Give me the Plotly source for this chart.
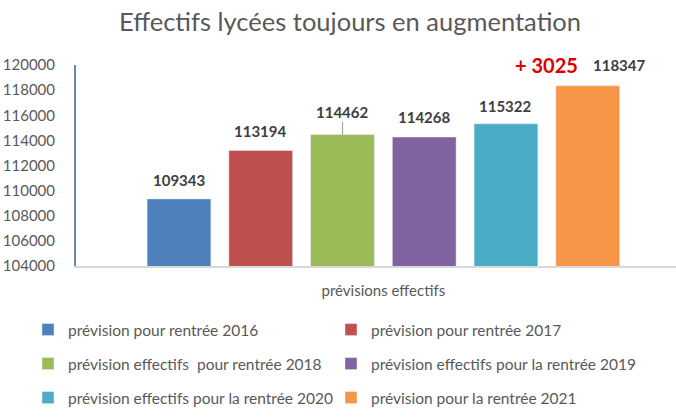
import plotly.graph_objects as go

# ---- data ----
series_names = [
    "prévision pour rentrée 2016",
    "prévision pour rentrée 2017",
    "prévision effectifs  pour rentrée 2018",
    "prévision effectifs pour la rentrée 2019",
    "prévision effectifs pour la rentrée 2020",
    "prévision pour la rentrée 2021",
]
values = [109343, 113194, 114462, 114268, 115322, 118347]
colors = ["#4F81BD", "#C0504D", "#9BBB59", "#8064A2", "#4BACC6", "#F79646"]
category_label = "prévisions effectifs"
title_text = "Effectifs lycées toujours en augmentation"
y_ticks = list(range(104000, 120001, 2000))

FONT = "Lato, Carlito, Calibri, 'Liberation Sans', sans-serif"
GREY = "#595959"
LABEL = "#404040"

fig = go.Figure()
legend_ids = ["legend", "legend2", "legend3", "legend4", "legend5", "legend6"]
for i, (name, v, c) in enumerate(zip(series_names, values, colors)):
    fig.add_trace(go.Bar(
        x=[i], y=[v], name=name, marker_color=c, width=0.78,
        legend=legend_ids[i], hoverinfo="name+y",
    ))

# data labels
label_shift = [19, 20, 0, 20, 18, 21]
for i, v in enumerate(values):
    if i == 2:
        fig.add_annotation(x=i, y=v, text=f"<b>{v}</b>", showarrow=True,
                           ax=0, ay=-23, arrowhead=0, arrowwidth=1.2,
                           arrowcolor="#A6A6A6", standoff=0,
                           font=dict(family=FONT, size=15, color=LABEL))
    elif i == 5:
        fig.add_annotation(x=i, y=v, text=f"<b>{v}</b>", showarrow=False,
                           xshift=32, yshift=label_shift[i],
                           font=dict(family=FONT, size=15, color=LABEL))
    else:
        fig.add_annotation(x=i, y=v, text=f"<b>{v}</b>", showarrow=False,
                           yshift=label_shift[i],
                           font=dict(family=FONT, size=15, color=LABEL))

diff = values[-1] - values[-2]
fig.add_annotation(x=5, y=values[-1], text=f"<b>+ {diff}</b>", showarrow=False,
                   xshift=-41, yshift=21,
                   font=dict(family=FONT, size=20, color="#E00000"))

fig.update_layout(
    width=676, height=420,
    margin=dict(l=76, r=0, t=65, b=154),
    paper_bgcolor="white", plot_bgcolor="white",
    barmode="overlay",
    showlegend=True,
    title=dict(text=title_text, x=350 / 676, xref="container", xanchor="center",
               y=1 - 22 / 420, yref="container", yanchor="middle",
               font=dict(family=FONT, size=25.5, color=GREY)),
    font=dict(family=FONT, color=GREY),
    xaxis=dict(range=[-1.26, 6.08], tickvals=[2.5], ticktext=[category_label],
               showline=True, linecolor="#D9D9D9", linewidth=2, showgrid=False,
               zeroline=False, ticks="", ticklabelstandoff=10,
               tickfont=dict(family=FONT, size=15, color=GREY), fixedrange=True),
    yaxis=dict(range=[104000, 120000], tickvals=y_ticks, tickformat="d",
               showline=True, linecolor="#6E88A8", linewidth=2, showgrid=False,
               zeroline=False, ticks="", ticklabelstandoff=16,
               tickfont=dict(family=FONT, size=15, color=GREY), fixedrange=True),
)

leg_common = dict(orientation="h", xref="container", yref="container",
                  xanchor="left", yanchor="middle",
                  font=dict(family=FONT, size=15.5, color=GREY),
                  bgcolor="rgba(0,0,0,0)", itemclick=False, itemdoubleclick=False)
col_x = [28, 331]
row_y = [330, 364, 398]
legend_layout = {}
for i, lid in enumerate(legend_ids):
    legend_layout[lid] = dict(x=col_x[i % 2] / 676, y=1 - row_y[i // 2] / 420, **leg_common)
fig.update_layout(**legend_layout)

fig.write_html("out.html", config={"displayModeBar": False},
               post_script="document.body.style.margin='0';")
